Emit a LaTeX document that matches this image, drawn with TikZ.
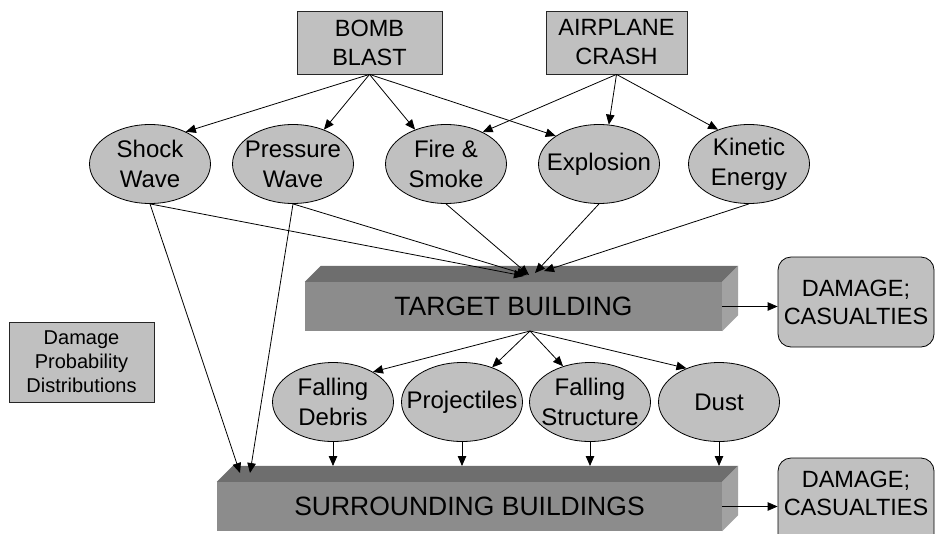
\documentclass[tikz,border=0pt]{standalone}
\usepackage{fontspec}
\setmainfont{Liberation Sans}
\usetikzlibrary{shapes.geometric,arrows.meta}
\definecolor{boxgray}{HTML}{C0C0C0}
\definecolor{frontgray}{HTML}{8C8C8C}
\definecolor{topgray}{HTML}{6E6E6E}
\definecolor{sidegray}{HTML}{A2A2A2}

\begin{document}
\begin{tikzpicture}[x=1pt,y=-1pt,
  arr/.style={-{Triangle[length=10pt,width=8.5pt]}, line width=0.8pt},
  srcbox/.style={draw=black!85, line width=0.8pt, fill=boxgray, align=center,
    inner sep=0pt, font=\fontsize{23.5}{29}\selectfont},
  effect/.style={ellipse, draw=black, line width=0.8pt, fill=boxgray,
    inner xsep=-16pt, inner ysep=-6pt, minimum width=121pt, minimum height=79pt,
    align=center, font=\fontsize{24}{30}\selectfont},
  outcome/.style={draw=black, line width=0.8pt, fill=boxgray, rounded corners=13pt,
    minimum width=156pt, minimum height=90pt, inner sep=0pt, align=center,
    font=\fontsize{23.5}{28}\selectfont},
  bldg/.style={fill=frontgray, inner sep=0pt, minimum height=49pt,
    font=\fontsize{26.5}{30}\selectfont},
  topface/.style={fill=topgray},
  sideface/.style={fill=sidegray},
]
\clip (0,0) rectangle (936,533);

% hazards
\node[srcbox, minimum width=145pt, minimum height=63pt] (bomb) at (369.5,42.5) {BOMB\\BLAST};
\node[srcbox, minimum width=141pt, minimum height=63pt] (crash) at (616.5,42.5) {AIRPLANE\\CRASH};

% primary effects
\node[effect] (shock)   at (150,164) {Shock\\Wave};
\node[effect] (press)   at (293,164) {Pressure\\Wave};
\node[effect] (fire)    at (446,164) {Fire \&\\Smoke};
\node[effect] (explo)   at (599,164) {Explosion};
\node[effect] (kinetic) at (749,164) {Kinetic\\Energy};

% target building (front, top and side faces)
\node[bldg, minimum width=417pt] (tb) at (513.5,306.5) {TARGET BUILDING};
\fill[topface] (tb.north west) -- ++(16,-16) -- ([shift={(16,-16)}]tb.north east) -- (tb.north east) -- cycle;
\fill[sideface] (tb.north east) -- ++(16,-16) -- ([shift={(16,-16)}]tb.south east) -- (tb.south east) -- cycle;

% secondary effects
\node[effect] (debris) at (333,402) {Falling\\Debris};
\node[effect] (proj)   at (462,402) {Projectiles};
\node[effect] (struct) at (590,402) {Falling\\Structure};
\node[effect] (dust)   at (719,402) {Dust};

% surrounding buildings
\node[bldg, minimum width=505pt] (sb) at (469.5,506.5) {SURROUNDING BUILDINGS};
\fill[topface] (sb.north west) -- ++(16,-16) -- ([shift={(16,-16)}]sb.north east) -- (sb.north east) -- cycle;
\fill[sideface] (sb.north east) -- ++(16,-16) -- ([shift={(16,-16)}]sb.south east) -- (sb.south east) -- cycle;

% outcomes
\node[outcome] (dmg1) at (856,302) {DAMAGE;\\CASUALTIES};
\node[outcome] (dmg2) at (856,503) {DAMAGE;\\CASUALTIES\\[-9pt]\mbox{}};

\node[srcbox, minimum width=145pt, minimum height=80pt, font=\fontsize{20}{24}\selectfont]
  (dpd) at (81.5,362) {Damage\\Probability\\Distributions};

% landing points on the building tops
\coordinate (t1) at (524,276);
\coordinate (t2) at (527,275);
\coordinate (t3) at (529,275);
\coordinate (t4) at (535,273);
\coordinate (t5) at (544,271);
\coordinate (tbo) at (530,331);
\coordinate (s1) at (240,473);
\coordinate (s2) at (250,473);
\coordinate (sbtop) at (0,466);

% hazards to primary effects
\draw[arr] (bomb.south) -- (shock.42);
\draw[arr] (bomb.south) -- (press.48);
\draw[arr] (bomb.south) -- (fire.132);
\draw[arr] (bomb.south) -- (explo.147);
\draw[arr] (crash.south) -- (fire.41);
\draw[arr] (crash.south) -- (explo.76);
\draw[arr] (crash.south) -- (kinetic.132);

% primary effects to target building
\draw[arr] (shock.south) -- (t1);
\draw[arr] (press.south) -- (t2);
\draw[arr] (fire.south) -- (t3);
\draw[arr] (explo.south) -- (t4);
\draw[arr] (kinetic.south) -- (t5);

% blast waves reaching the surrounding buildings
\draw[arr] (shock.south) -- (s1);
\draw[arr] (press.south) -- (s2);

% target building to secondary effects
\draw[arr] (tbo) -- (debris.37);
\draw[arr] (tbo) -- (proj.49);
\draw[arr] (tbo) -- (struct.127);
\draw[arr] (tbo) -- (dust.134);

% secondary effects to surrounding buildings
\draw[arr] (debris.south) -- (debris.south |- sbtop);
\draw[arr] (proj.south) -- (proj.south |- sbtop);
\draw[arr] (struct.south) -- (struct.south |- sbtop);
\draw[arr] (dust.south) -- (dust.south |- sbtop);

% buildings to outcomes
\draw[arr] (tb.east) -- (tb.east -| dmg1.west);
\draw[arr] (sb.east) -- (sb.east -| dmg2.west);
\end{tikzpicture}
\end{document}
